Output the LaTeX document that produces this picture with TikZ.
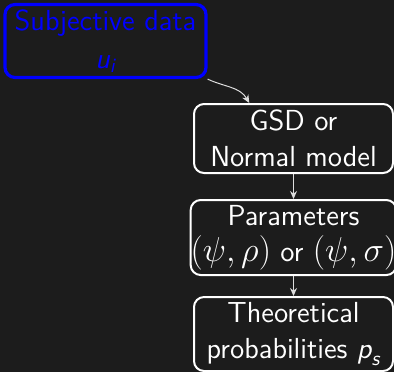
\documentclass[tikz,border=0pt]{standalone}
\usepackage{amsmath}
\usetikzlibrary{arrows.meta,calc}
\definecolor{bgc}{HTML}{1C1C1C}
\definecolor{arrc}{HTML}{DDDDDD}
\newcommand\sfit[1]{\textsf{\itshape #1}}
\newcommand\mybigmath[1]{{\fontsize{16.2}{18}\selectfont #1}}
\tikzset{
  box/.style={draw=white, line width=1pt, rounded corners=5pt, text=white,
    align=center, font=\sffamily\fontsize{14.5}{18}\selectfont,
    minimum width=99.5pt, inner sep=0pt},
  blubox/.style={box, draw=blue, text=blue, line width=1.6pt, minimum width=100.5pt},
  conn/.style={draw=arrc, line width=0.5pt, -{Stealth[length=4pt,width=3.5pt]}},
}
\begin{document}
\begin{tikzpicture}[x=0.5pt,y=-0.5pt]
\fill[bgc] (0,0) rectangle (394,372);
\useasboundingbox (0,0) rectangle (394,372);
\node[blubox, minimum height=36.5pt] (sub) at (105.5,41) {Subjective data\\[1pt] $\sfit{u}_{\sfit{i}}$};
\node[box, minimum height=34.5pt] (gsd) at (293.5,138.5) {GSD or\\ Normal model};
\node[box, minimum height=37.5pt] (par) at (293.5,237.5) {Parameters\\ \mybigmath{$(\psi,\rho)$} or \mybigmath{$(\psi,\sigma)$}};
\node[box, minimum height=37pt] (the) at (293.5,334) {Theoretical\\ probabilities $\sfit{p}_{\sfit{s}}$};
\coordinate (gin) at ($(gsd.north west)!0.28!(gsd.north east)$);
\draw[conn] (sub.south east) to[out=-25,in=120] (gin);
\draw[conn] (gsd.south) -- (par.north);
\draw[conn] (par.south) -- (the.north);
\end{tikzpicture}
\end{document}
